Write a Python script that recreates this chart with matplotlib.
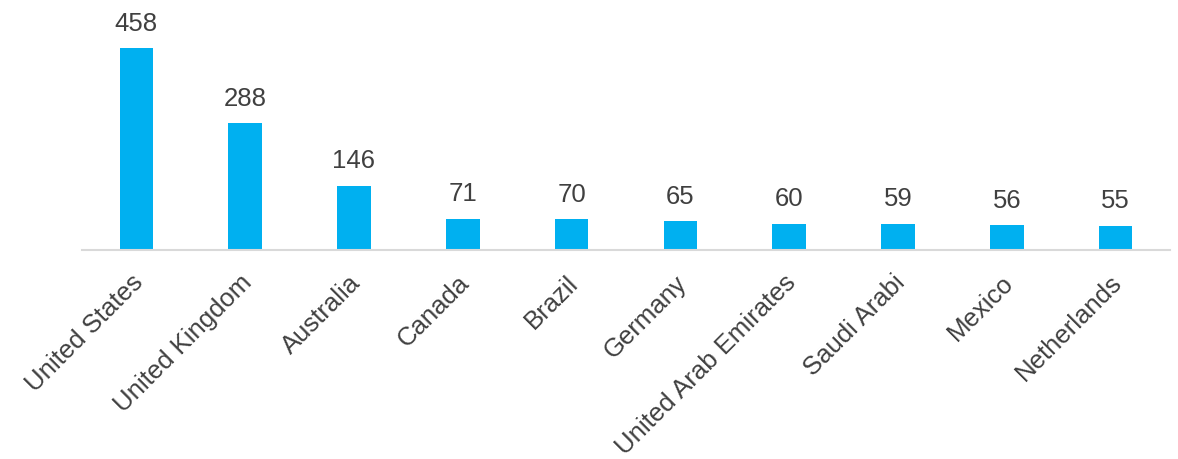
import matplotlib
matplotlib.use("Agg")
import matplotlib.pyplot as plt
import matplotlib.transforms as mtransforms

categories = ["United States", "United Kingdom", "Australia", "Canada", "Brazil",
              "Germany", "United Arab Emirates", "Saudi Arabi", "Mexico", "Netherlands"]
values = [458, 288, 146, 71, 70, 65, 60, 59, 56, 55]

plt.rcParams['font.family'] = ['Liberation Sans', 'DejaVu Sans']

fig = plt.figure(figsize=(11.78, 4.59), dpi=100)
ax = fig.add_axes([82/1178, (459-250)/459, (1170-82)/1178, 250/459])

x = range(len(categories))
bars = ax.bar(x, values, width=0.31, color="#00B0F0")
ax.set_xlim(-0.5, len(categories) - 0.5)
ax.set_ylim(0, 567)

for xi, v in zip(x, values):
    ax.annotate(str(v), (xi, v), xytext=(0, 9), textcoords="offset points",
                ha="center", va="bottom", fontsize=18.5, color="#404040")

ax.set_xticks(list(x))
ax.set_xticklabels(categories, rotation=45, ha="right", va="center",
                   rotation_mode="anchor", fontsize=18.5, color="#404040")
ax.tick_params(axis="x", length=0, pad=21)
offset = mtransforms.ScaledTranslation(3/100, 0, fig.dpi_scale_trans)
for lbl in ax.get_xticklabels():
    lbl.set_transform(lbl.get_transform() + offset)
ax.set_yticks([])
for s in ["top", "right", "left"]:
    ax.spines[s].set_visible(False)
ax.spines["bottom"].set_color("#D9D9D9")
ax.spines["bottom"].set_linewidth(1.5)

fig.savefig("out.png", dpi=100)
